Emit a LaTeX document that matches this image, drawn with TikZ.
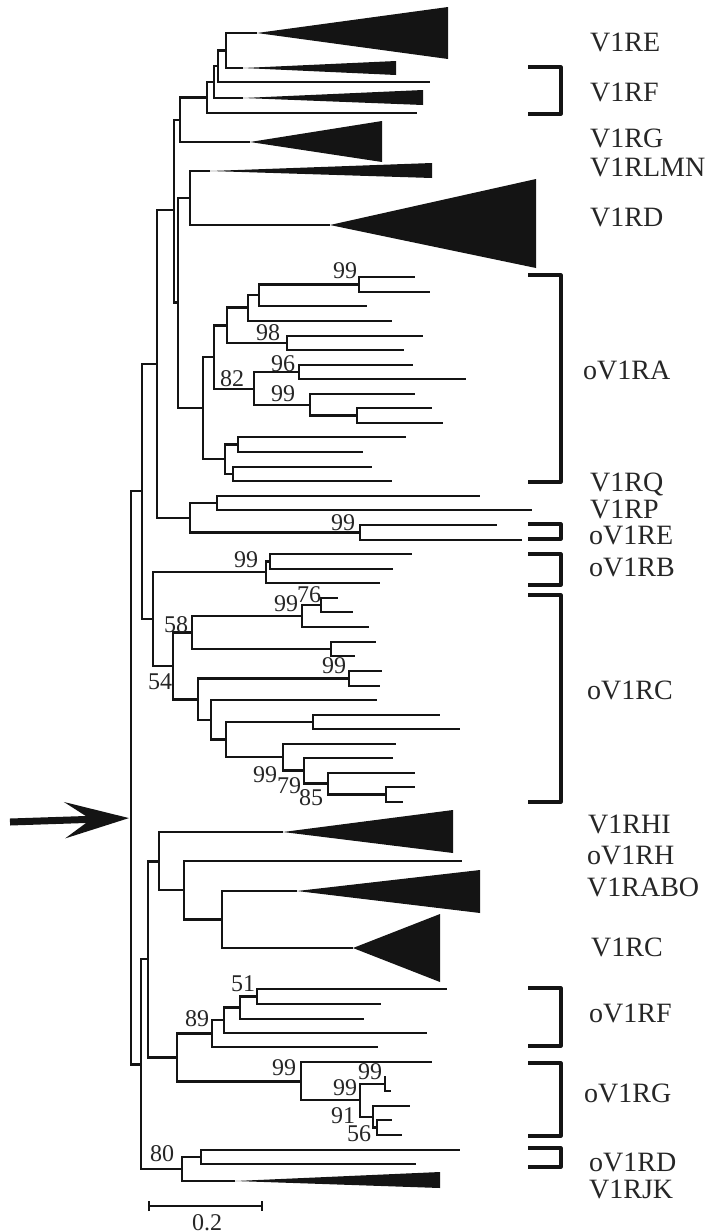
\documentclass[tikz,border=0pt]{standalone}
\usepackage{fontspec}
\setmainfont{Liberation Serif}
\usetikzlibrary{arrows.meta}
\definecolor{treeink}{HTML}{141414}
\definecolor{labink}{HTML}{262626}
\begin{document}
\begin{tikzpicture}[x=1pt,y=-1pt,
  branch/.style={line width=2.9pt, draw=treeink},
  clade/.style={fill=treeink},
  brk/.style={line width=3.2pt, draw=treeink, line join=round},
  lab/.style={font=\fontsize{28}{30}\selectfont, text=labink, anchor=base west, inner sep=0pt},
  bs/.style={font=\fontsize{24}{26}\selectfont, text=labink, anchor=base, inner sep=0pt}]
\useasboundingbox (0,0) rectangle (717,1232);

% ---------- upper group: V1RE ... V1RD ----------
\coordinate (tE)   at (257,33);
\coordinate (tF1)  at (243,68);
\coordinate (nA)   at (226,50.5);
\coordinate (lF2)  at (430,82);
\coordinate (nB)   at (218,66);
\coordinate (tF3)  at (243,98);
\coordinate (nC)   at (214,82);
\coordinate (lF4)  at (417,113);
\coordinate (nD)   at (207,97.5);
\coordinate (tG)   at (250,142);
\coordinate (nE)   at (180,120);
\coordinate (tLMN) at (210,171);
\coordinate (tD)   at (330,225);
\coordinate (nLD)  at (190,198);
% ---------- oV1RA ----------
\coordinate (l1)  at (415,277);
\coordinate (l2)  at (430,292);
\coordinate (n359) at (359,284.5);
\coordinate (l3)  at (367,306);
\coordinate (n259) at (259,295);
\coordinate (l4)  at (392,321);
\coordinate (n248) at (248,307.5);
\coordinate (l5)  at (423,336);
\coordinate (l6)  at (404,350);
\coordinate (n287) at (287,343);
\coordinate (n227) at (227,325.5);
\coordinate (l7)  at (413,365);
\coordinate (l8)  at (466,379);
\coordinate (n299) at (299,372);
\coordinate (l9)  at (415,394);
\coordinate (l10) at (432,408);
\coordinate (l11) at (443,423);
\coordinate (n357) at (357,415.5);
\coordinate (n310) at (310,405);
\coordinate (n254) at (254,389);
\coordinate (n214) at (214,357);
\coordinate (l12) at (406,437);
\coordinate (l13) at (363,452);
\coordinate (n238) at (238,444.5);
\coordinate (l14) at (372,467);
\coordinate (l15) at (392,481);
\coordinate (n233) at (233,474);
\coordinate (n225) at (225,459);
\coordinate (n203) at (203,408);
\coordinate (nG)  at (178,302.5);
\coordinate (nF)  at (174,210);
% ---------- V1RP / oV1RE ----------
\coordinate (l16) at (480,496);
\coordinate (l17) at (532,510);
\coordinate (n217) at (217,503);
\coordinate (l18) at (497,525);
\coordinate (l19) at (522,540);
\coordinate (n360) at (360,532.5);
\coordinate (n190) at (190,518);
\coordinate (n157) at (157,364);
% ---------- oV1RB ----------
\coordinate (l20) at (412,554);
\coordinate (l21) at (393,569);
\coordinate (n270) at (270,561.5);
\coordinate (l22) at (380,583);
\coordinate (n266) at (266,572);
% ---------- oV1RC ----------
\coordinate (l23) at (338,598);
\coordinate (l24) at (353,612);
\coordinate (n321) at (321,605);
\coordinate (l25) at (369,627);
\coordinate (n302) at (302,616);
\coordinate (l26) at (376,642);
\coordinate (l27) at (355,656);
\coordinate (n331) at (331,649);
\coordinate (n192) at (192,632.5);
\coordinate (l28) at (382,671);
\coordinate (l29) at (380,686);
\coordinate (n349) at (349,678.5);
\coordinate (l30) at (377,700);
\coordinate (l31) at (440,715);
\coordinate (l32) at (460,729);
\coordinate (n313) at (313,722);
\coordinate (l33) at (396,744);
\coordinate (l34) at (393,758);
\coordinate (l35) at (415,773);
\coordinate (l36) at (415,787);
\coordinate (l37) at (403,802);
\coordinate (n386) at (386,794.5);
\coordinate (n328) at (328,783.5);
\coordinate (n304) at (304,770.5);
\coordinate (n283) at (283,757);
\coordinate (n226) at (226,739.5);
\coordinate (n211) at (211,720);
\coordinate (n198) at (198,699.5);
\coordinate (n173) at (173,666);
\coordinate (n153) at (153,619);
\coordinate (n142) at (142,491);
% ---------- lower group ----------
\coordinate (tHI)  at (283,832);
\coordinate (lH)   at (462,861);
\coordinate (tABO) at (297,891);
\coordinate (tC)   at (353,948);
\coordinate (n222) at (222,919.5);
\coordinate (n184) at (184,890);
\coordinate (n159) at (159,861.5);
% oV1RF
\coordinate (l38) at (447,989);
\coordinate (l39) at (381,1004);
\coordinate (n257) at (257,996.5);
\coordinate (l40) at (364,1019);
\coordinate (n240) at (240,1007.5);
\coordinate (l41) at (427,1033);
\coordinate (n224) at (224,1020);
\coordinate (l42) at (378,1047);
\coordinate (n212) at (212,1033.5);
% oV1RG
\coordinate (l43) at (432,1062);
\coordinate (l44) at (386,1077);
\coordinate (l45) at (391,1091);
\coordinate (n385) at (385,1084);
\coordinate (l46) at (410,1106);
\coordinate (l47) at (392,1120);
\coordinate (l48) at (402,1135);
\coordinate (n377) at (377,1127.5);
\coordinate (n373) at (373,1117);
\coordinate (n360c) at (360,1100);
\coordinate (n301) at (301,1081.5);
\coordinate (n177) at (177,1057.5);
\coordinate (n148) at (148,959);
% oV1RD / V1RJK
\coordinate (l49) at (460,1150);
\coordinate (l50) at (416,1164);
\coordinate (n201) at (201,1157);
\coordinate (tJK) at (235,1181);
\coordinate (n182) at (182,1169);
\coordinate (n141) at (141,1064.5);
% root
\coordinate (root) at (131,818);

% collapsed clades
\fill[clade] (tE)   -- (448,7)   -- (448,59)  -- cycle;
\fill[clade] (tF1)  -- (396,61)  -- (396,75)  -- cycle;
\fill[clade] (tF3)  -- (423,90)  -- (423,105) -- cycle;
\fill[clade] (tG)   -- (382,121) -- (382,162) -- cycle;
\fill[clade] (tLMN) -- (432,163) -- (432,178) -- cycle;
\fill[clade] (tD)   -- (536,179) -- (536,268) -- cycle;
\fill[clade] (tHI)  -- (453,810) -- (453,853) -- cycle;
\fill[clade] (tABO) -- (480,870) -- (480,913) -- cycle;
\fill[clade] (tC)   -- (440,914) -- (440,982) -- cycle;
\fill[clade] (tJK)  -- (440,1172) -- (440,1188) -- cycle;

% branches (parent |- child)
\foreach \p/\c in {
  nA/tE, nA/tF1, nB/nA, nB/lF2, nC/nB, nC/tF3, nD/nC, nD/lF4, nE/nD, nE/tG,
  nLD/tLMN, nLD/tD,
  n359/l1, n359/l2, n259/n359, n259/l3, n248/n259, n248/l4,
  n287/l5, n287/l6, n227/n248, n227/n287,
  n299/l7, n299/l8, n357/l10, n357/l11, n310/l9, n310/n357,
  n254/n299, n254/n310, n214/n227, n214/n254,
  n238/l12, n238/l13, n233/l14, n233/l15, n225/n238, n225/n233,
  n203/n214, n203/n225, nG/nLD, nG/n203, nF/nE, nF/nG,
  n217/l16, n217/l17, n360/l18, n360/l19, n190/n217, n190/n360,
  n157/nF, n157/n190,
  n270/l20, n270/l21, n266/n270, n266/l22,
  n321/l23, n321/l24, n302/n321, n302/l25, n331/l26, n331/l27,
  n192/n302, n192/n331, n349/l28, n349/l29,
  n313/l31, n313/l32, n386/l36, n386/l37, n328/l35, n328/n386,
  n304/l34, n304/n328, n283/l33, n283/n304, n226/n313, n226/n283,
  n211/l30, n211/n226, n198/n349, n198/n211, n173/n192, n173/n198,
  n153/n266, n153/n173, n142/n157, n142/n153,
  n222/tABO, n222/tC, n184/lH, n184/n222, n159/tHI, n159/n184,
  n257/l38, n257/l39, n240/n257, n240/l40, n224/n240, n224/l41,
  n212/n224, n212/l42,
  n385/l44, n385/l45, n377/l47, n377/l48, n373/l46, n373/n377,
  n360c/n385, n360c/n373, n301/l43, n301/n360c,
  n177/n212, n177/n301, n148/n159, n148/n177,
  n201/l49, n201/l50, n182/n201, n182/tJK,
  n141/n148, n141/n182, root/n142, root/n141}
  \draw[branch] (\p) |- (\c);

% arrow marking the root
\coordinate (tail) at (10,822);
\draw[treeink, line width=7pt, shorten >=2pt,
  -{Stealth[length=64pt,width=36pt,inset=26pt]}] (tail) -- (root);

% group brackets
\foreach \t/\b in {67/114, 275/482, 524/539, 554/585, 595/802,
                   988/1046, 1063/1136, 1148/1167}
  \draw[brk] (528,\t) -- (561,\t) -- (561,\b) -- (528,\b);

% group names
\node[lab] (gE)    at (590,51.5)  {V1RE};
\node[lab] (gF)    at (590,101.5) {V1RF};
\node[lab] (gG)    at (590,147.5) {V1RG};
\node[lab] (gLMN)  at (590,176.5) {V1RLMN};
\node[lab] (gD)    at (590,226.5) {V1RD};
\node[lab] (goA)   at (583,379.5) {oV1RA};
\node[lab] (gQ)    at (590,491)   {V1RQ};
\node[lab] (gP)    at (590,518.5) {V1RP};
\node[lab] (goE)   at (589,544.5) {oV1RE};
\node[lab] (goB)   at (589,576.5) {oV1RB};
\node[lab] (goC)   at (587,699.5) {oV1RC};
\node[lab] (gHI)   at (588,833.5) {V1RHI};
\node[lab] (goH)   at (587,864.5) {oV1RH};
\node[lab] (gABO)  at (587,896.5) {V1RABO};
\node[lab] (gC)    at (591,956.5) {V1RC};
\node[lab] (goF)   at (589,1022.5) {oV1RF};
\node[lab] (goG)   at (584,1102.5) {oV1RG};
\node[lab] (goD)   at (589,1171)  {oV1RD};
\node[lab] (gJK)   at (589,1198)  {V1RJK};

% bootstrap support values
\node[bs] (b1)  at (345,278.5)  {99};
\node[bs] (b2)  at (268,340.5)  {98};
\node[bs] (b3)  at (283,371.5)  {96};
\node[bs] (b4)  at (232,386.5)  {82};
\node[bs] (b5)  at (283,401.5)  {99};
\node[bs] (b6)  at (343,530.5)  {99};
\node[bs] (b7)  at (246,567.5)  {99};
\node[bs] (b8)  at (286,611.5)  {99};
\node[bs] (b9)  at (309,602.5)  {76};
\node[bs] (b10) at (176,632.5)  {58};
\node[bs] (b11) at (160,689.5)  {54};
\node[bs] (b12) at (334,673.5)  {99};
\node[bs] (b13) at (265,782.5)  {99};
\node[bs] (b14) at (289,793.5)  {79};
\node[bs] (b15) at (311,805.5)  {85};
\node[bs] (b16) at (243,991.5)  {51};
\node[bs] (b17) at (197,1026.5) {89};
\node[bs] (b18) at (284,1075.5) {99};
\node[bs] (b19) at (370,1079.5) {99};
\node[bs] (b20) at (345,1095.5) {99};
\node[bs] (b21) at (343,1123.5) {91};
\node[bs] (b22) at (359,1141.5) {56};
\node[bs] (b23) at (162,1161.5) {80};

% scale bar
\coordinate (sb0) at (148,1206);
\coordinate (sb1) at (263,1206);
\draw[treeink, line width=2pt, {Bar[width=10pt]}-{Bar[width=10pt]}] (sb0) -- (sb1);
\node[bs] (sbl) at (207,1230) {0.2};
\end{tikzpicture}
\end{document}
